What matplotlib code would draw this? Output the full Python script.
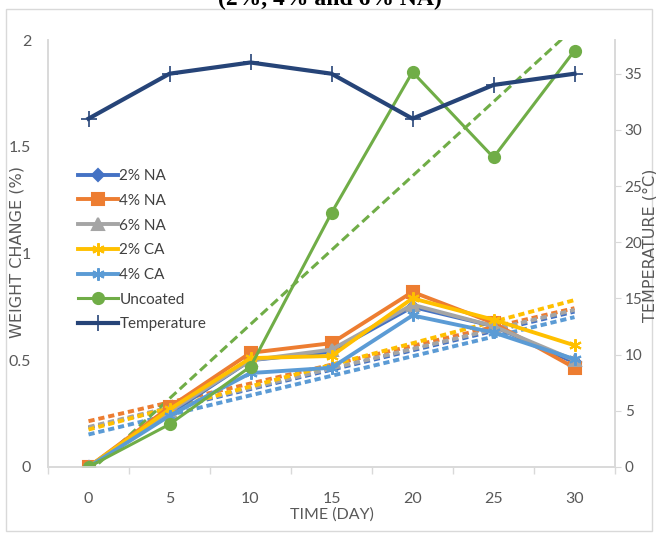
import numpy as np
import matplotlib
matplotlib.use("Agg")
import matplotlib.pyplot as plt
from matplotlib.patches import Rectangle

# ---- data ----
days = [0, 5, 10, 15, 20, 25, 30]
na2 = [0, 0.25, 0.50, 0.54, 0.75, 0.66, 0.49]
na4 = [0, 0.28, 0.535, 0.58, 0.82, 0.675, 0.465]
na6 = [0, 0.26, 0.50, 0.55, 0.76, 0.66, 0.50]
ca2 = [0, 0.27, 0.51, 0.52, 0.79, 0.69, 0.57]
ca4 = [0, 0.24, 0.44, 0.465, 0.71, 0.63, 0.505]
uncoated = [0, 0.20, 0.47, 1.19, 1.85, 1.45, 1.95]
temperature = [31, 35, 36, 35, 31, 34, 35]

series_names = ["2% NA", "4% NA", "6% NA", "2% CA", "4% CA", "Uncoated"]
series_vals = [na2, na4, na6, ca2, ca4, uncoated]
colors = ["#4472C4", "#ED7D31", "#A5A5A5", "#FFC000", "#5B9BD5", "#70AD47"]
markers = ["D", "s", "^", (6, 2, 0), (6, 2, 0), "o"]
msizes = [6, 8, 8, 9, 9, 8]
temp_color = "#264478"

FONT = ["Lato", "DejaVu Sans"]
TXT = "#595959"

fig = plt.figure(figsize=(6.56, 5.33), dpi=100)
fig.patch.set_facecolor("white")
ax = fig.add_axes([48 / 656, 1 - 467 / 533, (615 - 48) / 656, (467 - 40) / 533])
ax2 = ax.twinx()

x = np.arange(len(days))
xd = np.array(days, dtype=float)

# trendlines (linear fits)
for vals, c, name in zip(series_vals, colors, series_names):
    p = np.polyfit(xd, np.array(vals), 1)
    if name == "Uncoated":
        ax.plot(x, np.polyval(p, xd), color=c, lw=2.2, ls=(0, (3.0, 1.5)), zorder=2)
    else:
        ax.plot(x, np.polyval(p, xd), color=c, lw=2.8, ls=(0, (1.6, 1.0)), zorder=2)

handles = []
for vals, c, m, ms, name in zip(series_vals, colors, markers, msizes, series_names):
    lw = 2.2 if name == "Uncoated" else 2.8
    ln, = ax.plot(x, vals, color=c, lw=lw, marker=m, ms=ms, mfc=c, mec=c,
                  mew=1.5, label=name, zorder=3)
    handles.append(ln)

tl, = ax2.plot(x, temperature, color=temp_color, lw=3.0, marker="+", ms=11,
               mew=1.2, label="Temperature", zorder=4)
handles.append(tl)

ax.set_xlim(-0.5, len(days) - 0.5)
ax.set_ylim(0, 2)
ax2.set_ylim(0, 38)

ax.set_xticks(x)
ax.set_xticklabels([str(d) for d in days])
ax.set_xticks(np.arange(-0.5, len(days), 1.0), minor=True)
ax.tick_params(axis="x", which="major", length=0, pad=18, labelsize=11.5, labelcolor=TXT)
ax.tick_params(axis="x", which="minor", length=5, color="#D9D9D9", width=1)

ax.set_yticks([0, 0.5, 1, 1.5, 2])
ax.set_yticklabels(["0", "0.5", "1", "1.5", "2"])
ax.tick_params(axis="y", length=0, pad=12, labelsize=11.5, labelcolor=TXT)

ax2.set_yticks([0, 5, 10, 15, 20, 25, 30, 35])
ax2.tick_params(axis="y", length=4, color="#D9D9D9", pad=3, labelsize=11, labelcolor=TXT)

for lab in ax.get_xticklabels() + ax.get_yticklabels() + ax2.get_yticklabels():
    lab.set_family(FONT)

for a in (ax, ax2):
    a.spines["top"].set_visible(False)
    for s in ("left", "right", "bottom"):
        a.spines[s].set_color("#D9D9D9")
        a.spines[s].set_linewidth(1.2)
    a.patch.set_visible(False)

ax.set_xlabel("TIME (DAY)", family=FONT, fontsize=11.5, color=TXT, labelpad=1)
fig.text(17 / 656, 1 - 252 / 533, "WEIGHT CHANGE (%)", rotation=90, ha="center",
         va="center", fontsize=11.5, color=TXT, family="DejaVu Sans")
fig.text(650 / 656, 1 - 245 / 533, "TEMPERATURE (°C)", rotation=90, ha="center",
         va="center", fontsize=11.5, color=TXT, family="DejaVu Sans")

leg = ax2.legend(handles=handles, loc="upper left",
                 bbox_to_anchor=(72 / 656, 1 - 163 / 533),
                 bbox_transform=fig.transFigure, frameon=False,
                 prop={"family": FONT, "size": 11}, handlelength=2.6,
                 handletextpad=0.1, labelspacing=0.7, borderaxespad=0)
for t in leg.get_texts():
    t.set_color("#404040")

# title remnant (cut off at top)
fig.text(330 / 656, 1 - 5 / 533, "(2%, 4% and 6% NA)", ha="center", va="baseline",
         fontsize=17, fontweight="bold", family="Liberation Serif", color="black")

# chart frame
fig.patches.append(Rectangle((6 / 656, 1 - 531 / 533), (652 - 6) / 656, (531 - 9) / 533,
                             transform=fig.transFigure, fill=False,
                             edgecolor="#D9D9D9", lw=1.0))

fig.savefig("out.png", dpi=100)
